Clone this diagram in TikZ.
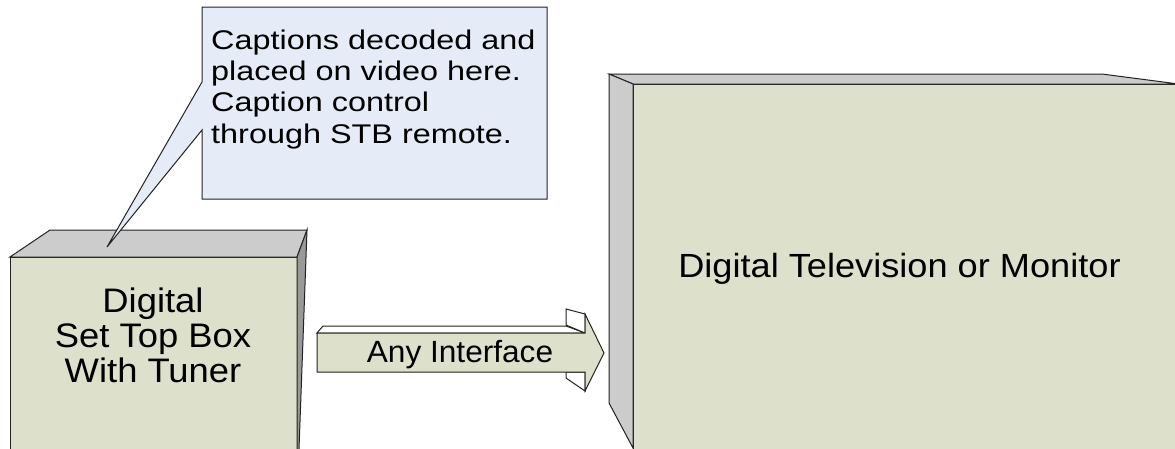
\documentclass[tikz,border=0pt]{standalone}
\usepackage{fontspec}
\setmainfont{Liberation Sans}
\definecolor{facecol}{HTML}{DDE0CB}
\definecolor{topcol}{HTML}{CCCCCC}
\definecolor{sidecol}{HTML}{999999}
\definecolor{notecol}{HTML}{E6ECF7}
\definecolor{edgecol}{HTML}{222222}
\begin{document}
\begin{tikzpicture}[x=1pt,y=-1pt,
  face/.style={draw=edgecol, line width=1pt, line join=miter},
  lbl/.style={inner sep=0pt, anchor=base, text=black},
  lblleft/.style={inner sep=0pt, anchor=base west, text=black}]
\useasboundingbox (0,0) rectangle (1175,448);
\begin{scope}
\clip (0,0) rectangle (1175,448);
% Set top box
\filldraw[face, fill=facecol] (10,257) -- (297,257) -- (297,460) -- (10,460) -- cycle;
\filldraw[face, fill=topcol] (10,257) -- (50,230) -- (307,230) -- (297,257) -- cycle;
\filldraw[face, fill=sidecol] (297,257) -- (307,230) -- (298.6,460) -- (297,460) -- cycle;
% Television
\filldraw[face, fill=facecol] (633,84) -- (1190,84) -- (1190,460) -- (633,460) -- cycle;
\filldraw[face, fill=topcol] (609,74) -- (1102,74) -- (1180,84.2) -- (633,84) -- cycle;
\filldraw[face, fill=topcol] (609,74) -- (633,84) -- (633,448) -- (609,403) -- cycle;
% Arrow
\filldraw[face, fill=white] (317,333) -- (323,326) -- (566,326) -- (585,333) -- cycle;
\filldraw[face, fill=white] (566,309) -- (585,314) -- (585,333) -- (566,325) -- cycle;
\filldraw[face, fill=white] (566,372) -- (585,372) -- (585,391) -- (566,378) -- cycle;
\filldraw[face, fill=facecol] (317,333) -- (585,333) -- (585,314) -- (604,353) -- (585,391) -- (585,372) -- (317,372) -- cycle;
% Callout
\filldraw[face, fill=notecol] (202,7) -- (547,7) -- (547,199) -- (202,199) -- (202,130) -- (107,247) -- (202,82) -- cycle;
\end{scope}
% Texts
\node[lbl, font=\fontsize{34}{40}\selectfont] (stb1) at (153,312) {\scalebox{1.07}[1]{Digital}};
\node[lbl, font=\fontsize{34}{40}\selectfont] (stb2) at (153,347) {\scalebox{1.07}[1]{Set Top Box}};
\node[lbl, font=\fontsize{34}{40}\selectfont] (stb3) at (153,382) {\scalebox{1.07}[1]{With Tuner}};
\node[lbl, font=\fontsize{33.5}{38}\selectfont] (tv) at (899.5,277) {\scalebox{1.08}[1]{Digital Television or Monitor}};
\node[lbl, font=\fontsize{30.7}{34}\selectfont] (ifc) at (460,362) {\scalebox{1.03}[1]{Any Interface}};
\node[lblleft, font=\fontsize{27}{30}\selectfont] (c1) at (211,49.3) {\scalebox{1.2}[1]{Captions decoded and}};
\node[lblleft, font=\fontsize{27}{30}\selectfont] (c2) at (211,80.6) {\scalebox{1.2}[1]{placed on video here.}};
\node[lblleft, font=\fontsize{27}{30}\selectfont] (c3) at (211,111.9) {\scalebox{1.2}[1]{Caption control}};
\node[lblleft, font=\fontsize{27}{30}\selectfont] (c4) at (211,143.2) {\scalebox{1.2}[1]{through STB remote.}};
\end{tikzpicture}
\end{document}
